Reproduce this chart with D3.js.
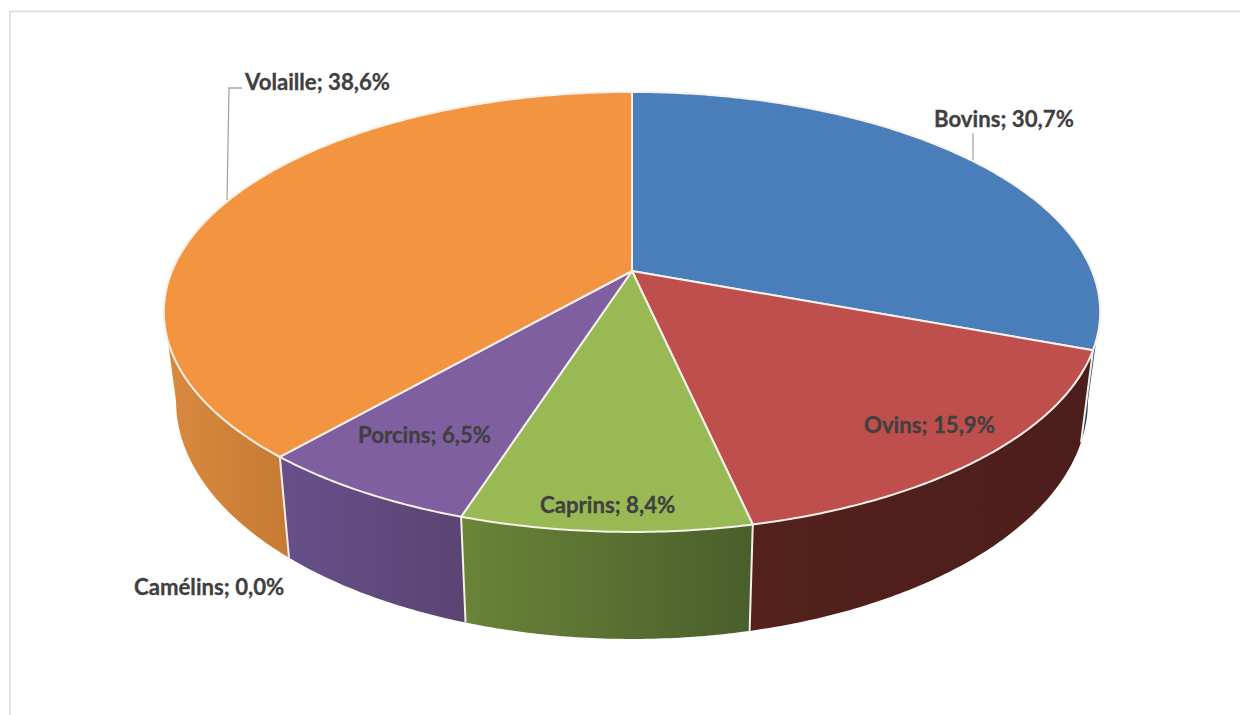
<!DOCTYPE html>
<html>
<head>
<meta charset="utf-8">
<script src="https://cdn.jsdelivr.net/npm/d3@7"></script>
<style>
  body { margin: 0; background: #fff; }
  svg { display: block; }
</style>
</head>
<body>
<script>
const categories = ["Bovins", "Ovins", "Caprins", "Porcins", "Camélins", "Volaille"];
const shares = [30.7, 15.9, 8.4, 6.5, 0.0, 38.6];

const topColors = ["#4a7ebb", "#be4f4c", "#98b954", "#7f5fa0", "#7f7f7f", "#f39441"];
const wallColors = [
  ["#2e4d73", "#2e4d73"],
  ["#54211c", "#4c1e1b"],
  ["#6a8438", "#4a5e2b"],
  ["#67508a", "#5a4472"],
  ["#888888", "#888888"],
  ["#da8a3f", "#c67a34"]
];
// left + baseline of each data label, in page pixels
const labelX = [934, 864, 540, 358, 134, 245];
const labelY = [127, 433, 513, 443, 595, 90];

const w = 1240;
const h = 715;

// the disc is a circle seen in perspective, k is how fast it grows toward the viewer
const k = -0.186;
const topDisc = { cx: 632, a: 460, b: 162, c: 271 };
const bottomDisc = { cx: 632, a: 448, b: 163.4, c: 356.7 };

function project(disc, angle) {
  const u = Math.sin(angle);
  const v = -Math.cos(angle);
  const d = 1 + k * v;
  return [disc.cx + disc.a * u / d, (disc.b * v + disc.c) / d];
}

function arcPoints(disc, a0, a1) {
  const n = Math.max(2, Math.ceil((a1 - a0) / 0.01));
  return d3.range(n + 1).map(i => project(disc, a0 + (a1 - a0) * i / n));
}

const line = d3.line();
const percent = d3.format(".1f");

const pie = d3.pie().sort(null).value(d => d.share);
const slices = pie(categories.map((name, i) => ({ name, share: shares[i], i })))
  .filter(d => d.data.share > 0);

const svg = d3.select("body")
  .append("svg")
  .attr("width", w)
  .attr("height", h);

// chart frame, runs off the picture on the right and at the bottom
svg.append("path")
  .attr("d", line([[10, h], [10, 11.5], [w, 11.5]]))
  .attr("fill", "none")
  .attr("stroke", "#d9d9d9")
  .attr("stroke-width", 1.5);

const defs = svg.append("defs");
wallColors.forEach((c, i) => {
  const g = defs.append("linearGradient").attr("id", "wall" + i);
  g.append("stop").attr("offset", "0%").attr("stop-color", c[0]);
  g.append("stop").attr("offset", "100%").attr("stop-color", c[1]);
});

// the wall is only seen between the two points where the rim turns away
const wallFrom = Math.acos(k);
const wallTo = 2 * Math.PI - wallFrom;

const walls = slices
  .map(d => ({ d, a0: Math.max(d.startAngle, wallFrom), a1: Math.min(d.endAngle, wallTo) }))
  .filter(s => s.a1 > s.a0);

svg.append("g").selectAll("path")
  .data(walls)
  .enter()
  .append("path")
  .attr("d", s => line(arcPoints(topDisc, s.a0, s.a1).concat(arcPoints(bottomDisc, s.a0, s.a1).reverse())) + "Z")
  .attr("fill", s => `url(#wall${s.d.data.i})`);

// white seams between the walls
svg.append("g").selectAll("line")
  .data(walls.filter(s => s.d.endAngle < wallTo))
  .enter()
  .append("line")
  .attr("x1", s => project(topDisc, s.a1)[0])
  .attr("y1", s => project(topDisc, s.a1)[1])
  .attr("x2", s => project(bottomDisc, s.a1)[0])
  .attr("y2", s => project(bottomDisc, s.a1)[1])
  .attr("stroke", "#f4efe8")
  .attr("stroke-width", 2);

svg.append("g").selectAll("path")
  .data(slices)
  .enter()
  .append("path")
  .attr("d", d => line([[topDisc.cx, topDisc.c]]
    .concat(arcPoints(topDisc, d.startAngle, d.endAngle))) + "Z")
  .attr("fill", d => topColors[d.data.i])
  .attr("stroke", "#f6f1ea")
  .attr("stroke-width", 2)
  .attr("stroke-linejoin", "round");

// leader lines
const leaders = svg.append("g")
  .attr("fill", "none")
  .attr("stroke", "#a6a6a6")
  .attr("stroke-width", 1.3);
leaders.append("path").attr("d", line([[227, 200], [229, 88], [242, 88]]));
leaders.append("path").attr("d", line([[973, 133], [973, 160]]));

svg.append("g").selectAll("text")
  .data(categories)
  .enter()
  .append("text")
  .attr("x", (d, i) => labelX[i])
  .attr("y", (d, i) => labelY[i])
  .attr("font-family", "Lato, 'Open Sans', sans-serif")
  .attr("font-weight", "bold")
  .attr("font-size", "22.2px")
  .attr("fill", "#404040")
  .attr("stroke", "#404040")
  .attr("stroke-width", 0.3)
  .text((d, i) => `${d}; ${percent(shares[i]).replace(".", ",")}%`);
</script>
</body>
</html>
